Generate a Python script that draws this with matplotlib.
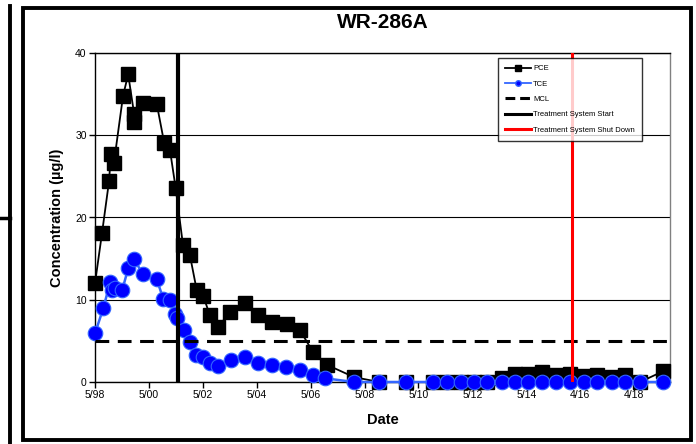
import matplotlib
matplotlib.use("Agg")
import matplotlib.pyplot as plt
from matplotlib.lines import Line2D
from matplotlib.patches import Rectangle
import numpy as np

plt.rcParams['font.family'] = ['Liberation Sans', 'DejaVu Sans']

# ---------------- data ----------------
pce_x = [1998.33, 1998.59, 1998.85, 1998.92, 1999.03, 1999.37, 1999.56, 1999.78, 1999.79,
         2000.12, 2000.62, 2000.90, 2001.11, 2001.32, 2001.59, 2001.85, 2002.10, 2002.35,
         2002.59, 2002.89, 2003.34, 2003.89, 2004.37, 2004.88, 2005.44, 2005.93, 2006.42,
         2006.92, 2007.93, 2008.86, 2009.86, 2010.86, 2011.38, 2011.90, 2012.38, 2012.86,
         2013.42, 2013.90, 2014.38, 2014.90, 2015.42, 2015.94, 2016.46, 2016.94, 2017.50,
         2017.98, 2018.54, 2019.39]
pce_y = [12.0, 18.1, 24.4, 27.7, 26.6, 34.8, 37.4, 32.6, 31.6,
         33.9, 33.8, 29.0, 28.2, 23.6, 16.7, 15.4, 11.2, 10.4,
         8.1, 6.7, 8.5, 9.6, 8.1, 7.3, 7.1, 6.3, 3.6,
         2.1, 0.6, 0.0, 0.0, 0.0, 0.0, 0.0, 0.0, 0.0,
         0.5, 1.0, 1.0, 1.2, 0.8, 1.0, 0.7, 0.9, 0.6,
         0.8, 0.0, 1.3]

tce_x = [1998.33, 1998.64, 1998.89, 1998.95, 1999.07, 1999.34, 1999.56, 1999.79, 2000.10,
         2000.62, 2000.86, 2001.11, 2001.30, 2001.36, 2001.63, 2001.85, 2002.07, 2002.35,
         2002.59, 2002.88, 2003.36, 2003.89, 2004.38, 2004.88, 2005.41, 2005.93, 2006.42,
         2006.86, 2007.93, 2008.86, 2009.86, 2010.86, 2011.38, 2011.90, 2012.38, 2012.86,
         2013.42, 2013.90, 2014.38, 2014.90, 2015.42, 2015.94, 2016.46, 2016.94, 2017.50,
         2017.98, 2018.54, 2019.39]
tce_y = [5.9, 9.0, 12.1, 11.2, 11.4, 11.2, 13.8, 14.9, 13.1,
         12.5, 10.1, 10.0, 8.3, 7.8, 6.3, 4.9, 3.3, 3.1,
         2.3, 1.95, 2.7, 3.0, 2.3, 2.1, 1.8, 1.4, 0.9,
         0.45, 0.0, 0.0, 0.0, 0.0, 0.0, 0.0, 0.0, 0.0,
         0.0, 0.0, 0.0, 0.0, 0.0, 0.0, 0.0, 0.0, 0.0,
         0.0, 0.0, 0.0]

mcl_value = 5
treatment_start = 2001.41
treatment_shutdown = 2016.02

x_start = 1998.33
x_end = 2019.65
tick_step = 730 / 365.25
tick_labels = ['5/98', '5/00', '5/02', '5/04', '5/06', '5/08', '5/10', '5/12', '5/14', '4/16', '4/18']
y_ticks = [0, 10, 20, 30, 40]

# ---------------- figure ----------------
W, H = 696, 444
fig = plt.figure(figsize=(W / 100, H / 100), dpi=100)
ax_l, ax_r, ax_t, ax_b = 95, 670, 53, 382
ax = fig.add_axes([ax_l / W, 1 - ax_b / H, (ax_r - ax_l) / W, (ax_b - ax_t) / H])

ax.plot(pce_x, pce_y, color='black', lw=1.3, marker='s', markersize=10.5,
        markerfacecolor='black', markeredgecolor='black', label='PCE', zorder=3,
        clip_on=False)
ax.plot(tce_x, tce_y, color='#3366FF', lw=1.8, marker='o', markersize=10.5,
        markerfacecolor='#0000FF', markeredgecolor='#3366FF', markeredgewidth=0.8,
        label='TCE', zorder=4, clip_on=False)
ax.axhline(mcl_value, color='black', lw=2.2, dashes=(4.5, 2.8), label='MCL', zorder=5)
ax.axvline(treatment_start, color='black', lw=3.0, label='Treatment System Start', zorder=6)
ax.axvline(treatment_shutdown, color='#FF0000', lw=2.2, label='Treatment System Shut Down', zorder=6)

ax.set_xlim(x_start, x_end)
ax.set_ylim(0, 40)
ax.set_yticks(y_ticks)
ax.set_xticks([x_start + k * tick_step for k in range(len(tick_labels))])
ax.set_xticklabels(tick_labels)
ax.tick_params(axis='both', direction='out', length=4, width=1, labelsize=7.5, pad=2)
ax.yaxis.grid(True, color='black', lw=0.8)
ax.set_axisbelow(True)
for s in ax.spines.values():
    s.set_linewidth(1.0)
    s.set_color('black')
ax.spines['right'].set_color('#808080')

ax.set_ylabel('Concentration (µg/l)', fontsize=10.5, fontweight='bold', labelpad=8)
ax.set_xlabel('Date', fontsize=10.5, fontweight='bold', labelpad=9)

fig.text((ax_l + ax_r) / 2 / W, 1 - 22 / H, 'WR-286A', ha='center', va='center',
         fontsize=15, fontweight='bold')

# legend
handles = [
    Line2D([], [], color='black', lw=1.3, marker='s', markersize=4, markerfacecolor='black'),
    Line2D([], [], color='#3366FF', lw=1.3, marker='o', markersize=4, markerfacecolor='#0000FF',
           markeredgecolor='#3366FF'),
    Line2D([], [], color='black', lw=2.2, dashes=(3.2, 1.6)),
    Line2D([], [], color='black', lw=2.2),
    Line2D([], [], color='#FF0000', lw=2.2),
]
labels = ['PCE', 'TCE', 'MCL', 'Treatment System Start', 'Treatment System Shut Down']
leg = ax.legend(handles, labels, loc='upper left',
                bbox_to_anchor=((498 - ax_l) / (ax_r - ax_l), (ax_b - 58) / (ax_b - ax_t)),
                fontsize=5.5, frameon=True, fancybox=False, edgecolor='black',
                handlelength=3.4, handletextpad=0.3, labelspacing=1.05,
                borderpad=0.9, borderaxespad=0)
leg.get_frame().set_linewidth(1.0)
leg.set_zorder(10)

# outer frame and left artefact
fig.add_artist(Rectangle((23 / W, 1 - 440 / H), (691 - 23) / W, (440 - 8) / H,
                         transform=fig.transFigure, fill=False, edgecolor='black', lw=2.8))
fig.add_artist(Line2D([10 / W, 10 / W], [1 - 6 / H, 0], transform=fig.transFigure,
                      color='black', lw=2.8))
fig.add_artist(Line2D([0, 10 / W], [1 - 218 / H, 1 - 218 / H], transform=fig.transFigure,
                      color='black', lw=2.5))

fig.savefig('out.png', dpi=100)
